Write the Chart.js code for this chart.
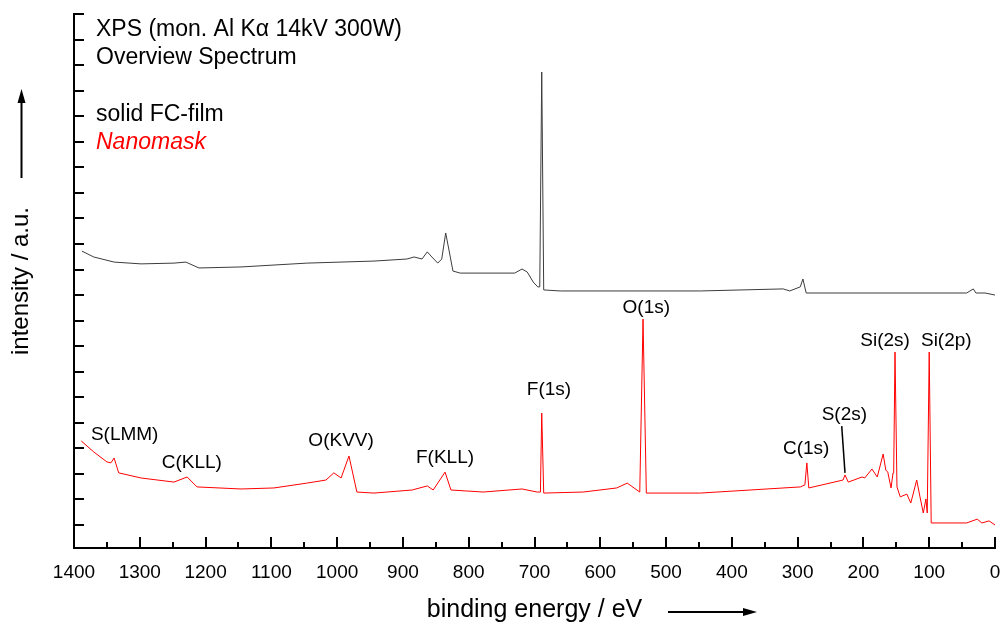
<!DOCTYPE html>
<html>
<head>
<meta charset="utf-8">
<script src="https://cdn.jsdelivr.net/npm/chart.js@4.4.1/dist/chart.umd.min.js"></script>
<style>
    html, body { margin: 0; padding: 0; background: #fff; }
    #wrap { width: 1001px; height: 625px; position: relative; }
</style>
</head>
<body>
<div id="wrap"><canvas id="xpsChart"></canvas></div>
<script>
// binding energy (eV) / intensity (a.u.)
const filmEnergy = [1388, 1370, 1339, 1298, 1248, 1230, 1210, 1146, 1046, 944,
    894, 883, 871, 863, 856, 847, 841, 835, 828, 824,
    813, 730, 719, 711, 702, 695, 692, 689, 686, 661,
    448, 322, 312, 296, 292, 287, 246, 43, 33, 29, 15, 0];
const filmIntensity = [10.72, 10.49, 10.29, 10.22, 10.25, 10.29, 10.06, 10.10, 10.25, 10.33,
    10.41, 10.49, 10.41, 10.69, 10.49, 10.25, 10.41, 11.43, 10.49, 9.94,
    9.86, 9.86, 10.02, 9.90, 9.51, 9.32, 9.32, 17.73, 9.20, 9.16,
    9.16, 9.24, 9.16, 9.32, 9.63, 9.08, 9.08, 9.08, 9.24, 9.08, 9.08, 9.00];

const maskEnergy = [1389, 1370, 1350, 1344, 1339, 1332, 1298, 1248, 1228, 1213,
    1146, 1096, 1046, 1017, 1005, 994, 982, 970, 944, 886,
    863, 854, 836, 827, 778, 719, 696, 691, 689, 686,
    626, 575, 559, 540, 535, 530, 448, 296, 289, 286,
    283, 231, 228, 223, 202, 198, 187, 179, 170, 166,
    163, 158, 155, 154, 152, 149, 144, 134, 128, 119,
    114, 109, 105, 103, 100, 97, 43, 27, 20, 9, 0];
const maskIntensity = [3.29, 2.86, 2.47, 2.43, 2.62, 2.04, 1.84, 1.68, 1.88, 1.49,
    1.41, 1.45, 1.64, 1.76, 2.04, 1.84, 2.70, 1.29, 1.25, 1.37,
    1.53, 1.37, 2.07, 1.37, 1.29, 1.41, 1.29, 1.29, 4.38, 1.25,
    1.29, 1.45, 1.64, 1.29, 8.06, 1.25, 1.25, 1.49, 1.57, 2.43,
    1.45, 1.76, 1.96, 1.68, 1.88, 1.84, 2.19, 1.88, 2.78, 2.15,
    2.07, 1.45, 2.04, 2.07, 6.77, 1.49, 1.10, 1.21, 0.86, 1.76,
    1.10, 0.47, 1.02, 0.47, 6.77, 0.08, 0.08, 0.23, 0.08, 0.16, 0.00];

// peak labels, placed in data coordinates
const peakNames = ['S(LMM)', 'C(KLL)', 'O(KVV)', 'F(KLL)', 'F(1s)', 'O(1s)', 'C(1s)', 'S(2s)', 'Si(2s)', 'Si(2p)'];
const peakEnergy = [1323, 1221, 994, 836, 678, 530, 287, 229, 167, 74];
const peakLevel = [3.52, 2.43, 3.29, 2.62, 5.28, 8.49, 2.97, 4.31, 7.20, 7.20];

// leader line from the S(2s) label down to its peak
const leaderEnergy = [233, 228];
const leaderLevel = [3.87, 2.04];

const infoLines = ['XPS (mon. Al K\u03b1 14kV 300W)', 'Overview Spectrum', '', 'solid FC-film', 'Nanomask'];

const FONT = '"Liberation Sans", Arial, sans-serif';
Chart.defaults.font.family = FONT;
Chart.defaults.color = '#000';

const toPoints = (xs, ys) => xs.map((e, i) => ({ x: e, y: ys[i] }));

// inward tick marks on the energy axis: long every 100 eV, short in between
const energyTicks = {
    id: 'energyTicks',
    afterDraw(chart) {
        const x = chart.scales.x;
        const ctx = chart.ctx;
        ctx.save();
        ctx.strokeStyle = '#000';
        ctx.lineWidth = 2;
        x.ticks.forEach(t => {
            const px = Math.round(x.getPixelForValue(t.value));
            const len = t.value % 100 === 0 ? 11 : 6;
            ctx.beginPath();
            ctx.moveTo(px, x.top);
            ctx.lineTo(px, x.top - len);
            ctx.stroke();
        });
        ctx.restore();
    }
};

// text block, peak names and the two axis arrows
const decorations = {
    id: 'decorations',
    afterDatasetsDraw(chart) {
        const { ctx, chartArea, scales: { x, y } } = chart;
        ctx.save();

        ctx.font = '19px ' + FONT;
        ctx.fillStyle = '#000';
        ctx.textAlign = 'center';
        ctx.textBaseline = 'middle';
        peakNames.forEach((name, i) => {
            ctx.fillText(name, x.getPixelForValue(peakEnergy[i]), y.getPixelForValue(peakLevel[i]));
        });

        ctx.textAlign = 'left';
        ctx.textBaseline = 'alphabetic';
        infoLines.forEach((line, i) => {
            if (!line) return;
            const isMask = line === 'Nanomask';
            ctx.font = (isMask ? 'italic ' : '') + '23px ' + FONT;
            ctx.fillStyle = isMask ? '#ff0000' : '#000';
            ctx.fillText(line, chartArea.left + 22, 36 + i * 28.3);
        });

        // arrows next to the axis titles
        ctx.strokeStyle = '#000';
        ctx.fillStyle = '#000';
        ctx.lineWidth = 2;
        ctx.beginPath();
        ctx.moveTo(668, 612);
        ctx.lineTo(745, 612);
        ctx.stroke();
        ctx.beginPath();
        ctx.moveTo(757, 612);
        ctx.lineTo(743, 608);
        ctx.lineTo(743, 616);
        ctx.closePath();
        ctx.fill();

        ctx.beginPath();
        ctx.moveTo(21.5, 178);
        ctx.lineTo(21.5, 100);
        ctx.stroke();
        ctx.beginPath();
        ctx.moveTo(21.5, 89);
        ctx.lineTo(17.5, 103);
        ctx.lineTo(25.5, 103);
        ctx.closePath();
        ctx.fill();

        ctx.restore();
    }
};

new Chart(document.getElementById('xpsChart'), {
    type: 'line',
    data: {
        datasets: [
            {
                label: 'solid FC-film',
                data: toPoints(filmEnergy, filmIntensity),
                borderColor: '#3c3c3c',
                borderWidth: 1,
                pointRadius: 0,
                fill: false
            },
            {
                label: 'Nanomask',
                data: toPoints(maskEnergy, maskIntensity),
                borderColor: '#ff0000',
                borderWidth: 1,
                pointRadius: 0,
                fill: false
            },
            {
                label: 'S(2s) leader',
                data: toPoints(leaderEnergy, leaderLevel),
                borderColor: '#000',
                borderWidth: 1.5,
                pointRadius: 0,
                fill: false
            }
        ]
    },
    options: {
        responsive: true,
        maintainAspectRatio: false,
        animation: false,
        layout: { padding: { top: 14, right: 6, left: 0, bottom: 0 } },
        plugins: {
            legend: { display: false },
            tooltip: { enabled: false }
        },
        scales: {
            x: {
                type: 'linear',
                position: 'bottom',
                reverse: true,
                min: 0,
                max: 1400,
                ticks: {
                    stepSize: 50,
                    autoSkip: false,
                    maxRotation: 0,
                    padding: 13,
                    color: '#000',
                    font: { size: 19 },
                    callback: v => (v % 100 === 0 ? String(v) : '')
                },
                grid: { drawOnChartArea: false, drawTicks: false },
                border: { display: true, color: '#000', width: 2 },
                title: {
                    display: true,
                    text: 'binding energy / eV',
                    color: '#000',
                    font: { size: 25 },
                    padding: { top: 0, bottom: 0 }
                },
                afterFit(scale) {
                    scale.height = 77;
                    scale.paddingLeft = 0;
                    scale.paddingRight = 0;
                }
            },
            y: {
                type: 'linear',
                position: 'left',
                min: -0.9,
                max: 20,
                ticks: { display: false, stepSize: 1 },
                afterBuildTicks(scale) {
                    scale.ticks = scale.ticks.filter(t => t.value >= 0);
                },
                grid: { drawOnChartArea: false, color: '#000', lineWidth: 2, tickLength: -10 },
                border: { display: true, color: '#000', width: 2 },
                title: {
                    display: true,
                    text: 'intensity / a.u.',
                    color: '#000',
                    font: { size: 24 },
                    padding: { top: 7, bottom: 0 }
                },
                afterFit(scale) {
                    scale.width = 74;
                    scale.paddingTop = 0;
                    scale.paddingBottom = 0;
                }
            }
        }
    },
    plugins: [energyTicks, decorations]
});
</script>
</body>
</html>
